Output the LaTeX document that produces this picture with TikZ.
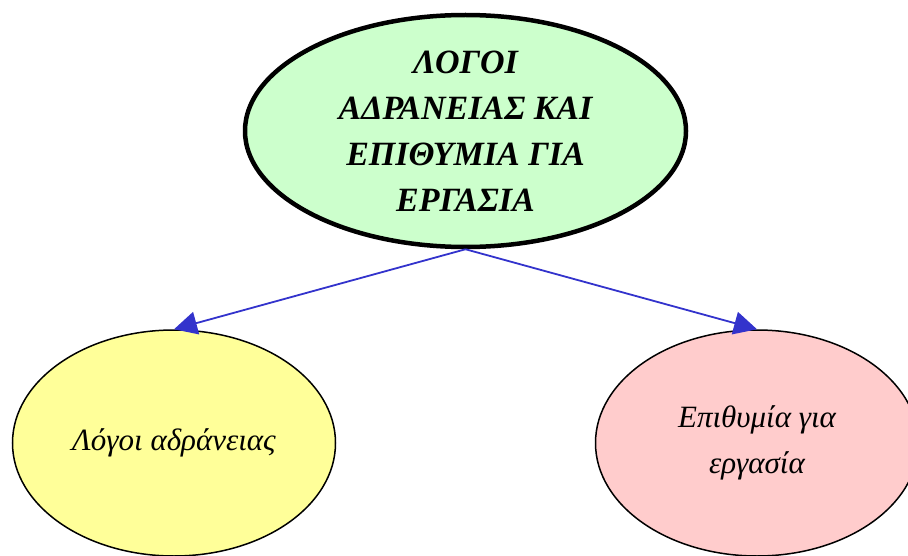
\documentclass[tikz,border=0pt]{standalone}
\usepackage{fontspec}
\setmainfont{Liberation Serif}
\usepackage{xcolor}
\usetikzlibrary{shapes.geometric, arrows.meta}

\definecolor{greenfill}{HTML}{CCFFCC}
\definecolor{yellowfill}{HTML}{FFFF99}
\definecolor{pinkfill}{HTML}{FFCCCC}
\definecolor{arrowblue}{HTML}{3333CC}

\begin{document}
\begin{tikzpicture}[x=1pt, y=1pt]
        \tikzstyle{every node}=[font=\itshape\fontsize{31}{46}\selectfont, align=center]
        \tikzstyle{bubble}=[ellipse, draw=black, inner sep=0pt]
        \tikzstyle{link}=[draw=arrowblue, line width=1.8pt, -{Triangle[length=23pt, width=23pt]}]

        \useasboundingbox (0,0) rectangle (908,-556);

        % Main topic
        \node[bubble, fill=greenfill, line width=4.5pt, minimum width=441pt, minimum height=232pt,
              font=\bfseries\itshape\fontsize{34}{46}\selectfont] (logoi) at (465.5,-131)
              {ΛΟΓΟΙ\\ΑΔΡΑΝΕΙΑΣ ΚΑΙ\\ΕΠΙΘΥΜΙΑ ΓΙΑ\\ΕΡΓΑΣΙΑ};

        % Sub topics
        \node[bubble, fill=yellowfill, line width=1.5pt, minimum width=323pt, minimum height=226pt] (adraneia) at (174,-443)
              {Λόγοι αδράνειας};
        \node[bubble, fill=pinkfill, line width=1.5pt, minimum width=323pt, minimum height=226pt] (epithymia) at (757,-443)
              {Επιθυμία για\\εργασία};

        % Connectors
        \draw[link] (logoi.south) -- (adraneia.north);
        \draw[link] (logoi.south) -- (epithymia.north);
\end{tikzpicture}
\end{document}
